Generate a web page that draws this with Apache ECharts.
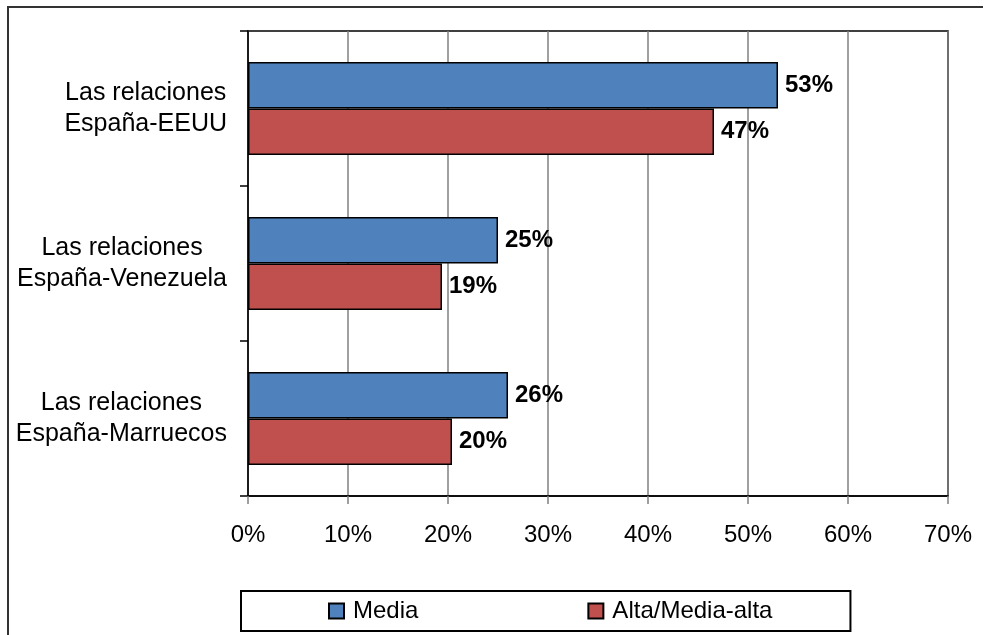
<!DOCTYPE html>
<html>
<head>
<meta charset="utf-8">
<script src="https://cdn.jsdelivr.net/npm/echarts@6/dist/echarts.min.js"></script>
<style>
  html, body { margin: 0; padding: 0; background: #fff; }
  #main { width: 993px; height: 635px; }
</style>
</head>
<body>
<div id="main"></div>
<script>
// datos del gráfico
var categorias = ['Las relaciones\nEspaña-EEUU', 'Las relaciones\nEspaña-Venezuela', 'Las relaciones\nEspaña-Marruecos'];
var serieNombres = ['Media', 'Alta/Media-alta'];
var media = [53, 25, 26];
var altaMediaAlta = [46.6, 19.4, 20.4];
var colores = ['#4F81BD', '#C0504D'];

var fuente = 'Liberation Sans, Arial, sans-serif';

var myChart = echarts.init(document.getElementById('main'));

function etiquetaBarra(p) {
    return Math.round(p.value) + '%';
}

function serie(nombre, datos, color) {
    return {
        name: nombre,
        type: 'bar',
        data: datos,
        barGap: '0%',
        barCategoryGap: '40%',
        itemStyle: { color: color, borderColor: '#000', borderWidth: 1.5 },
        label: {
            show: true,
            position: 'right',
            distance: 7,
            formatter: etiquetaBarra,
            color: '#000',
            fontWeight: 'bold',
            fontSize: 24,
            fontFamily: fuente
        }
    };
}

var option = {
    backgroundColor: '#fff',
    animation: false,
    grid: {
        left: 248, top: 31, right: 45, bottom: 139,
        show: true, borderColor: '#000', borderWidth: 1.5
    },
    legend: {
        data: serieNombres,
        icon: 'rect',
        left: 241,
        top: 591,
        padding: [8, 78, 8, 87],
        itemGap: 169,
        itemWidth: 15,
        itemHeight: 15,
        borderColor: '#000',
        borderWidth: 2,
        borderRadius: 0,
        textStyle: { fontSize: 24, color: '#000', fontFamily: fuente, padding: [0, 0, 0, 4] }
    },
    xAxis: {
        type: 'value',
        min: 0, max: 70, interval: 10,
        axisLine: { show: true, lineStyle: { color: '#000', width: 1.5 } },
        axisTick: { show: true, length: 8, lineStyle: { color: '#808080', width: 1.5 } },
        axisLabel: { formatter: '{value}%', fontSize: 24, color: '#000', fontFamily: fuente, margin: 27 },
        splitLine: { show: true, lineStyle: { color: '#808080', width: 1.5 } }
    },
    yAxis: {
        type: 'category',
        data: categorias,
        inverse: true,
        axisLine: { show: true, lineStyle: { color: '#000', width: 1.5 } },
        axisTick: { show: true, length: 8, lineStyle: { color: '#000', width: 1.5 } },
        axisLabel: {
            margin: 21,
            formatter: function (v) {
                return v.split('\n').map(function (l) { return '{c|' + l + '}'; }).join('\n');
            },
            rich: {
                c: { align: 'center', fontSize: 25, lineHeight: 31, color: '#000', fontFamily: fuente }
            }
        }
    },
    series: [
        serie(serieNombres[0], media, colores[0]),
        serie(serieNombres[1], altaMediaAlta, colores[1])
    ],
    graphic: [{
        type: 'polyline',
        shape: { points: [[8, 640], [8, 7], [983, 7]] },
        style: { stroke: '#333', lineWidth: 2, fill: null }
    }]
};

myChart.setOption(option);
</script>
</body>
</html>
